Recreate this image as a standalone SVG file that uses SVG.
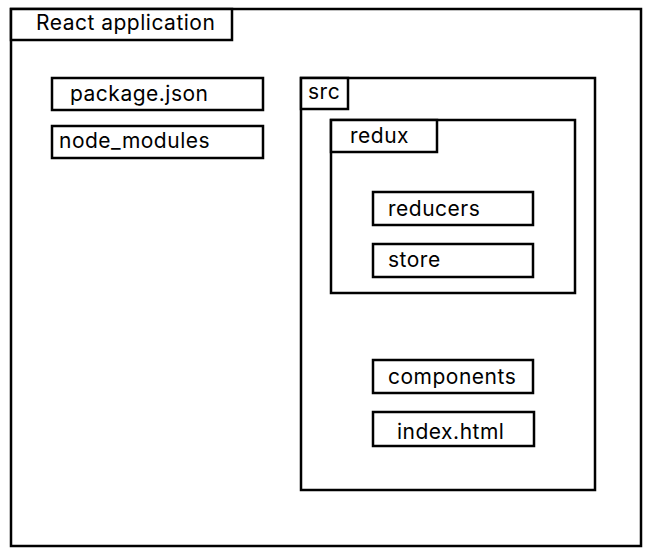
<svg xmlns="http://www.w3.org/2000/svg" width="650" height="552" viewBox="0 0 650 552">
<style>
.box{fill:#fff;stroke:#000;stroke-width:2.5}
.lbl{font-family:Inter,"Liberation Sans",sans-serif;font-size:21px;letter-spacing:0.5px;fill:#000}
</style>
<rect x="0" y="0" width="650" height="552" fill="#fff"/>
<g id="react-app">
<rect class="box" x="11" y="9" width="630" height="537"/>
<rect class="box" x="11" y="9" width="221" height="31"/>
<text class="lbl" x="36" y="30">React application</text>
</g>
<g id="package-json">
<rect class="box" x="52" y="78" width="211" height="32"/>
<text class="lbl" x="70" y="101">package.json</text>
</g>
<g id="node-modules">
<rect class="box" x="52" y="126" width="211" height="32"/>
<text class="lbl" x="59" y="148">node_modules</text>
</g>
<g id="src">
<rect class="box" x="301" y="78" width="294" height="412"/>
<rect class="box" x="301" y="78" width="47" height="31"/>
<text class="lbl" x="308" y="99">src</text>
</g>
<g id="redux">
<rect class="box" x="331" y="120" width="244" height="173"/>
<rect class="box" x="331" y="120" width="106" height="32"/>
<text class="lbl" x="350" y="143">redux</text>
</g>
<g id="reducers">
<rect class="box" x="373" y="192" width="160" height="33"/>
<text class="lbl" x="388" y="216">reducers</text>
</g>
<g id="store">
<rect class="box" x="373" y="244" width="160" height="33"/>
<text class="lbl" x="388" y="267">store</text>
</g>
<g id="components">
<rect class="box" x="373" y="360" width="160" height="33"/>
<text class="lbl" x="388" y="384">components</text>
</g>
<g id="index-html">
<rect class="box" x="373" y="412" width="161" height="34"/>
<text class="lbl" x="397" y="439">index.html</text>
</g>
<g id="connectors"></g>
</svg>
